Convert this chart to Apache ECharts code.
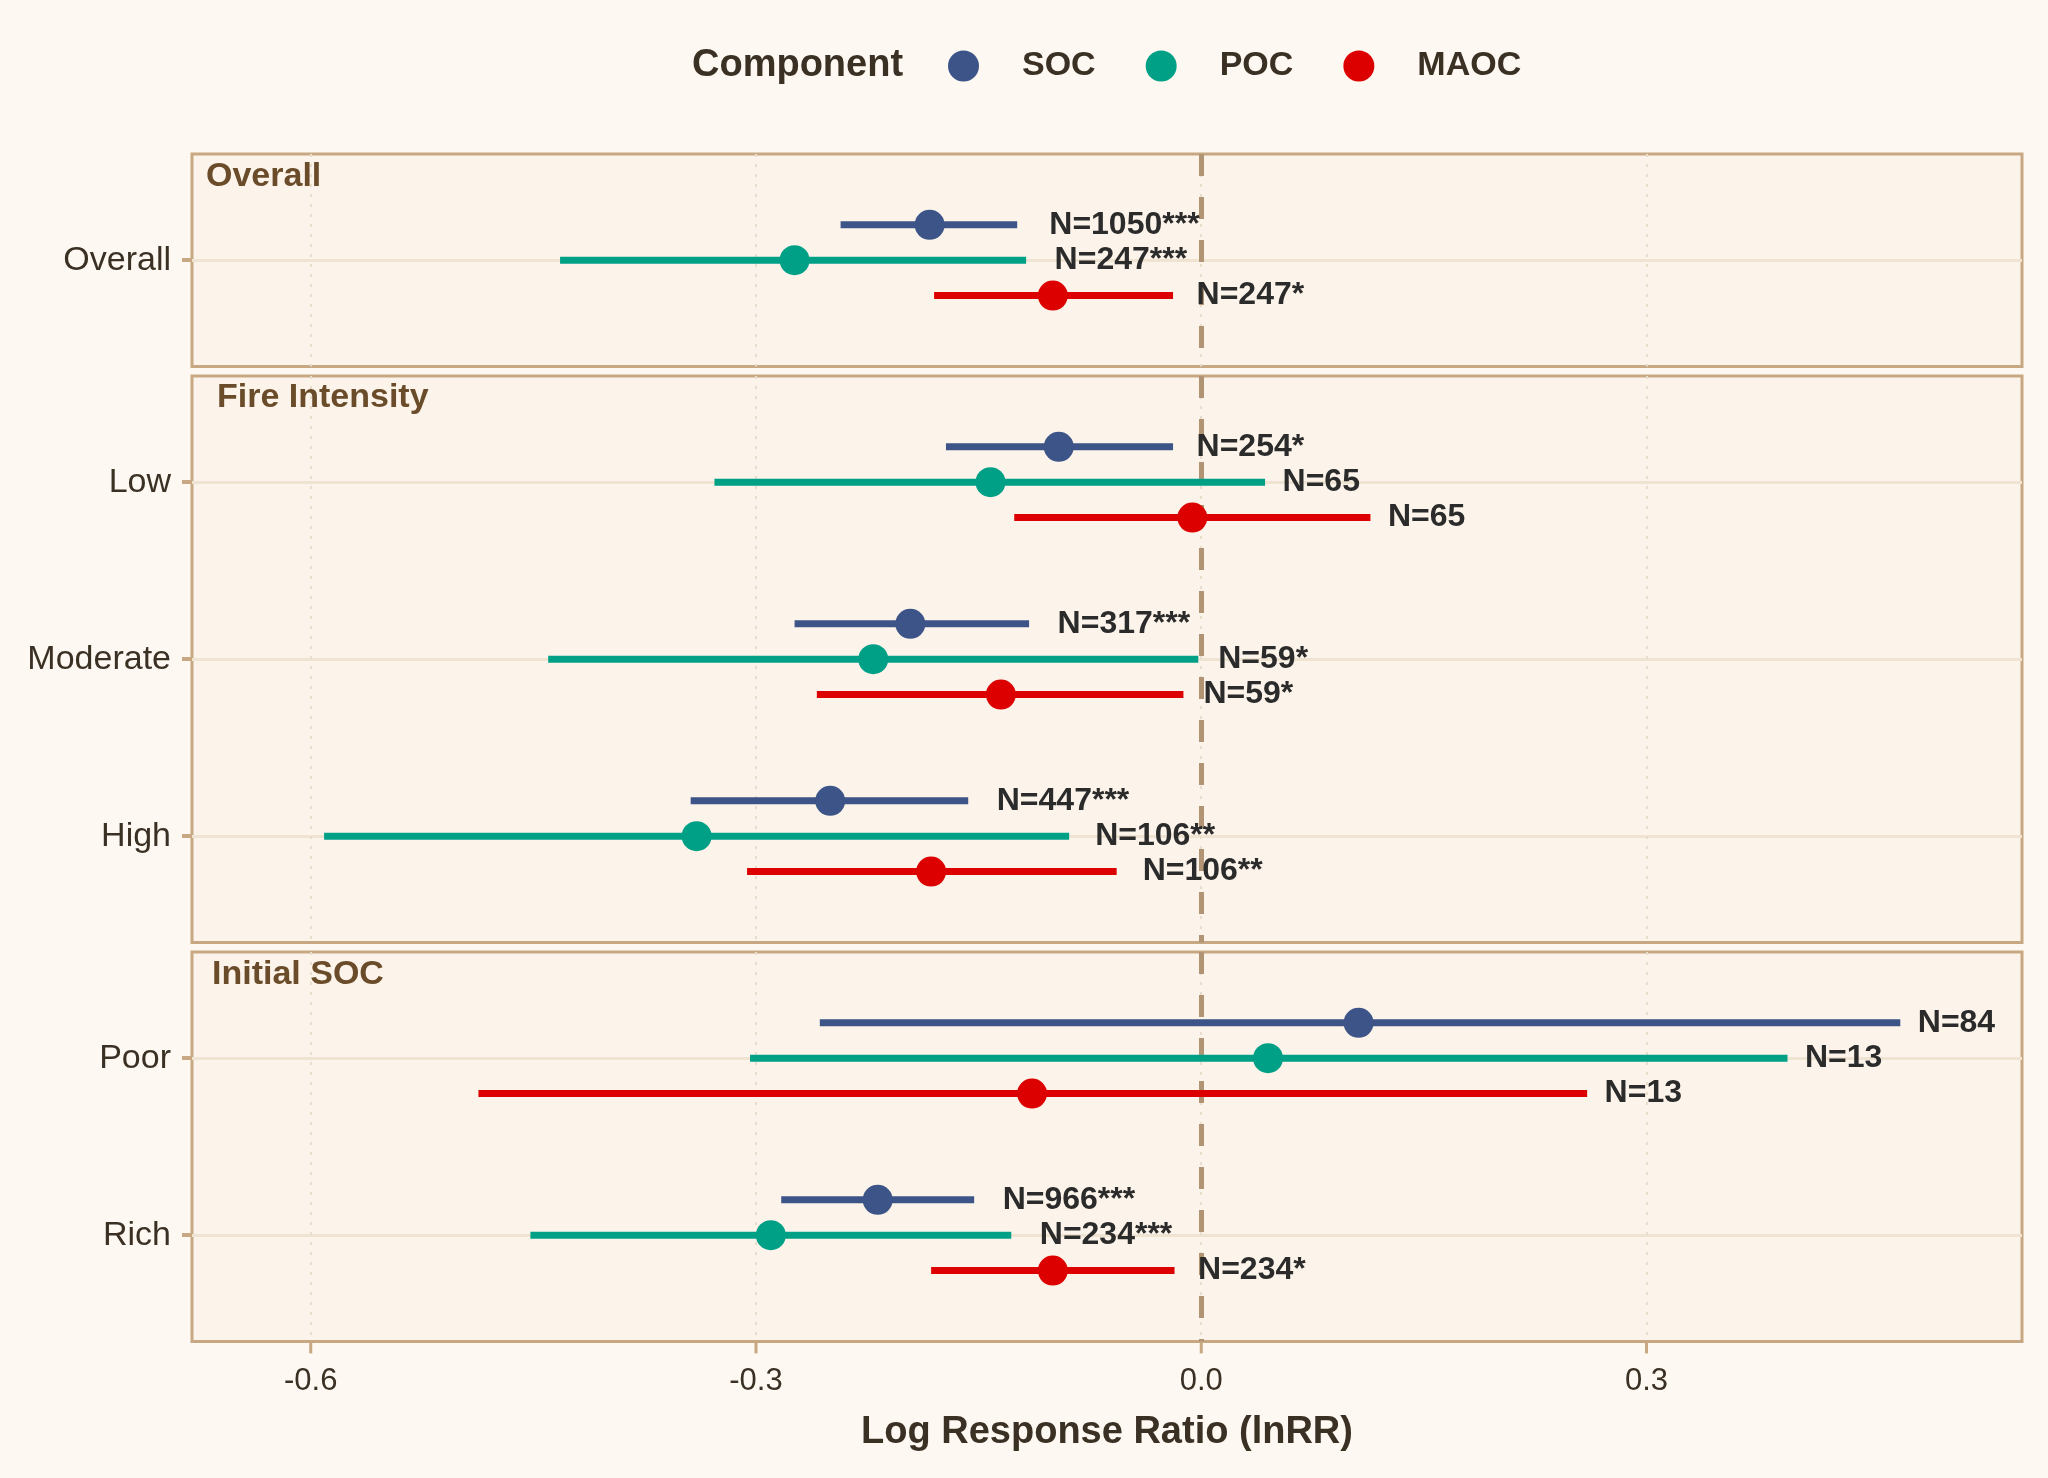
<!DOCTYPE html>
<html>
<head>
<meta charset="utf-8">
<title>Log response ratio by component</title>
<script src="https://cdn.jsdelivr.net/npm/echarts@6.0.0/dist/echarts.min.js"></script>
<style>
    html, body { margin: 0; padding: 0; background: #fdf8f1; }
    #chart { width: 2048px; height: 1478px; }
</style>
</head>
<body>
<div id="chart"></div>
<script>
// facet panels and the levels inside each one
const panels = ['Overall', 'Fire Intensity', 'Initial SOC'];
const panelLevels = [['Overall'], ['Low', 'Moderate', 'High'], ['Poor', 'Rich']];
const components = ['SOC', 'POC', 'MAOC'];

// rows in reading order: Overall, Low, Moderate, High, Poor, Rich
const rowPanel = [0, 1, 1, 1, 2, 2];
const rowLevel = [0, 0, 1, 2, 0, 1];

const socMean  = [-0.183, -0.096, -0.196, -0.250,  0.106, -0.218];
const socLower = [-0.243, -0.172, -0.274, -0.344, -0.257, -0.283];
const socUpper = [-0.124, -0.019, -0.116, -0.157,  0.471, -0.153];
const socN     = ['N=1050***', 'N=254*', 'N=317***', 'N=447***', 'N=84', 'N=966***'];

const pocMean  = [-0.274, -0.142, -0.221, -0.340,  0.045, -0.290];
const pocLower = [-0.432, -0.328, -0.440, -0.591, -0.304, -0.452];
const pocUpper = [-0.118,  0.043, -0.002, -0.089,  0.395, -0.128];
const pocN     = ['N=247***', 'N=65', 'N=59*', 'N=106**', 'N=13', 'N=234***'];

const maocMean  = [-0.100, -0.006, -0.135, -0.182, -0.114, -0.100];
const maocLower = [-0.180, -0.126, -0.259, -0.306, -0.487, -0.182];
const maocUpper = [-0.019,  0.114, -0.012, -0.057,  0.260, -0.018];
const maocN     = ['N=247*', 'N=65', 'N=59*', 'N=106**', 'N=13', 'N=234*'];

const xTicks = [-0.6, -0.3, 0.0, 0.3];

const compData = [
    { mean: socMean, lower: socLower, upper: socUpper, n: socN },
    { mean: pocMean, lower: pocLower, upper: pocUpper, n: pocN },
    { mean: maocMean, lower: maocLower, upper: maocUpper, n: maocN }
];
const colors = ['#3c5488', '#00a087', '#dc0000'];
const dodge = [-0.2, 0, 0.2];

const FONT = '"Liberation Sans", Arial, sans-serif';
const BORDER = '#c8a882';
const panelTop = [154, 376, 952];
const unit = 177;

const measureCtx = document.createElement('canvas').getContext('2d');
measureCtx.font = 'bold 32px ' + FONT;

let dom = document.getElementById('chart');
let myChart = echarts.init(dom, null, { renderer: 'canvas' });

let grids = [], xAxes = [], yAxes = [], series = [];

panels.forEach(function (panel, p) {
    let levels = panelLevels[p];
    let last = p === panels.length - 1;
    let levelIdx = levels.map(function (l, i) { return i; });

    grids.push({
        left: 192,
        right: 26,
        top: panelTop[p],
        height: (levels.length + 0.2) * unit,
        show: true,
        backgroundColor: '#fcf4ea',
        borderColor: BORDER,
        borderWidth: 3,
        outerBoundsMode: 'none'
    });

    xAxes.push({
        type: 'value',
        gridIndex: p,
        position: 'bottom',
        min: -0.68,
        max: 0.553,
        axisLine: { show: false, onZero: false },
        axisTick: { show: false, customValues: xTicks },
        axisLabel: {
            show: last,
            customValues: xTicks,
            margin: 25,
            fontSize: 31,
            fontFamily: FONT,
            color: '#3b3024',
            formatter: function (v) { return v.toFixed(1); }
        },
        splitLine: {
            show: true,
            lineStyle: { color: '#e8dccb', width: 2, type: [3, 7] }
        },
        name: last ? 'Log Response Ratio (lnRR)' : '',
        nameLocation: 'middle',
        nameGap: 72,
        nameTextStyle: {
            fontSize: 38,
            fontWeight: 'bold',
            fontFamily: FONT,
            color: '#3b3024'
        }
    });

    yAxes.push({
        type: 'value',
        gridIndex: p,
        position: 'left',
        inverse: true,
        min: -0.6,
        max: levels.length - 0.4,
        axisLine: { show: false, onZero: false },
        axisTick: {
            show: true,
            customValues: levelIdx,
            length: 10,
            lineStyle: { color: BORDER, width: 4 }
        },
        axisLabel: {
            customValues: levelIdx,
            margin: 21,
            fontSize: 34,
            fontFamily: FONT,
            color: '#3b3024',
            formatter: function (v) { return levels[Math.round(v)]; }
        },
        splitLine: {
            show: true,
            lineStyle: { color: '#efe3d1', width: 3 }
        }
    });

    components.forEach(function (comp, c) {
        let d = compData[c];
        let barData = [], pointData = [], labels = [];
        for (let r = 0; r < rowPanel.length; r++) {
            if (rowPanel[r] !== p) continue;
            let y = rowLevel[r] + dodge[c];
            barData.push([d.lower[r], d.upper[r], y]);
            pointData.push([d.mean[r], y]);
            labels.push(d.n[r]);
        }

        let bar = {
            name: comp,
            type: 'custom',
            xAxisIndex: p,
            yAxisIndex: p,
            z: 3,
            silent: true,
            itemStyle: { color: colors[c] },
            encode: { x: [0, 1], y: 2 },
            data: barData,
            renderItem: function (params, api) {
                let y = api.value(2);
                let p1 = api.coord([api.value(0), y]);
                let p2 = api.coord([api.value(1), y]);
                let text = labels[params.dataIndex];
                let gap = 2 + 0.2 * measureCtx.measureText(text).width;
                return {
                    type: 'group',
                    children: [
                        {
                            type: 'line',
                            shape: { x1: p1[0], y1: p1[1], x2: p2[0], y2: p2[1] },
                            style: { stroke: colors[c], lineWidth: 7 }
                        },
                        {
                            type: 'text',
                            x: p2[0] + gap,
                            y: p2[1],
                            z2: 10,
                            style: {
                                text: text,
                                fill: '#2b2b2b',
                                fontSize: 32,
                                fontWeight: 'bold',
                                fontFamily: FONT,
                                align: 'left',
                                verticalAlign: 'middle'
                            }
                        }
                    ]
                };
            }
        };
        if (c === 0) {
            bar.markLine = {
                silent: true,
                symbol: ['none', 'none'],
                label: { show: false },
                z: 1,
                lineStyle: { color: '#b09474', width: 5, type: [22, 21] },
                data: [{ xAxis: 0 }]
            };
        }
        series.push(bar);

        series.push({
            name: comp,
            type: 'scatter',
            xAxisIndex: p,
            yAxisIndex: p,
            z: 4,
            symbol: 'circle',
            symbolSize: 30,
            itemStyle: { color: colors[c], opacity: 1 },
            data: pointData
        });
    });
});

// x tick marks under the bottom panel
let bottomMax = panelLevels[2].length - 0.4;
series.push({
    type: 'custom',
    xAxisIndex: 2,
    yAxisIndex: 2,
    silent: true,
    clip: false,
    z: 5,
    encode: { x: 0, y: 1 },
    data: xTicks.map(function (v) { return [v, bottomMax]; }),
    renderItem: function (params, api) {
        let pt = api.coord([api.value(0), api.value(1)]);
        return {
            type: 'line',
            shape: { x1: pt[0], y1: pt[1] + 1, x2: pt[0], y2: pt[1] + 12 },
            style: { stroke: BORDER, lineWidth: 3 }
        };
    }
});

// strip titles placed at the top-left of each panel
let stripX = [206, 217, 212];
let stripY = [179, 400, 977];
let graphics = panels.map(function (panel, p) {
    return {
        type: 'text',
        left: stripX[p],
        top: stripY[p] - 19,
        z: 100,
        style: {
            text: panel,
            fill: '#6b4c2a',
            fontSize: 34,
            fontWeight: 'bold',
            fontFamily: FONT
        }
    };
});
graphics.push({
    type: 'text',
    left: 692,
    top: 47,
    z: 100,
    style: {
        text: 'Component',
        fill: '#3b3024',
        fontSize: 38,
        fontWeight: 'bold',
        fontFamily: FONT
    }
});

option = {
    backgroundColor: '#fdf8f1',
    animation: false,
    legend: {
        data: components.map(function (c) { return { name: c, icon: 'circle' }; }),
        left: 943,
        top: 44,
        itemWidth: 31,
        itemHeight: 31,
        itemGap: 50,
        selectedMode: false,
        textStyle: {
            fontSize: 34,
            fontWeight: 'bold',
            fontFamily: FONT,
            color: '#3b3024',
            padding: [0, 0, 0, 38]
        }
    },
    grid: grids,
    xAxis: xAxes,
    yAxis: yAxes,
    graphic: graphics,
    series: series
};

if (option && typeof option === 'object') {
    myChart.setOption(option);
}
window.addEventListener('resize', myChart.resize);
</script>
</body>
</html>
